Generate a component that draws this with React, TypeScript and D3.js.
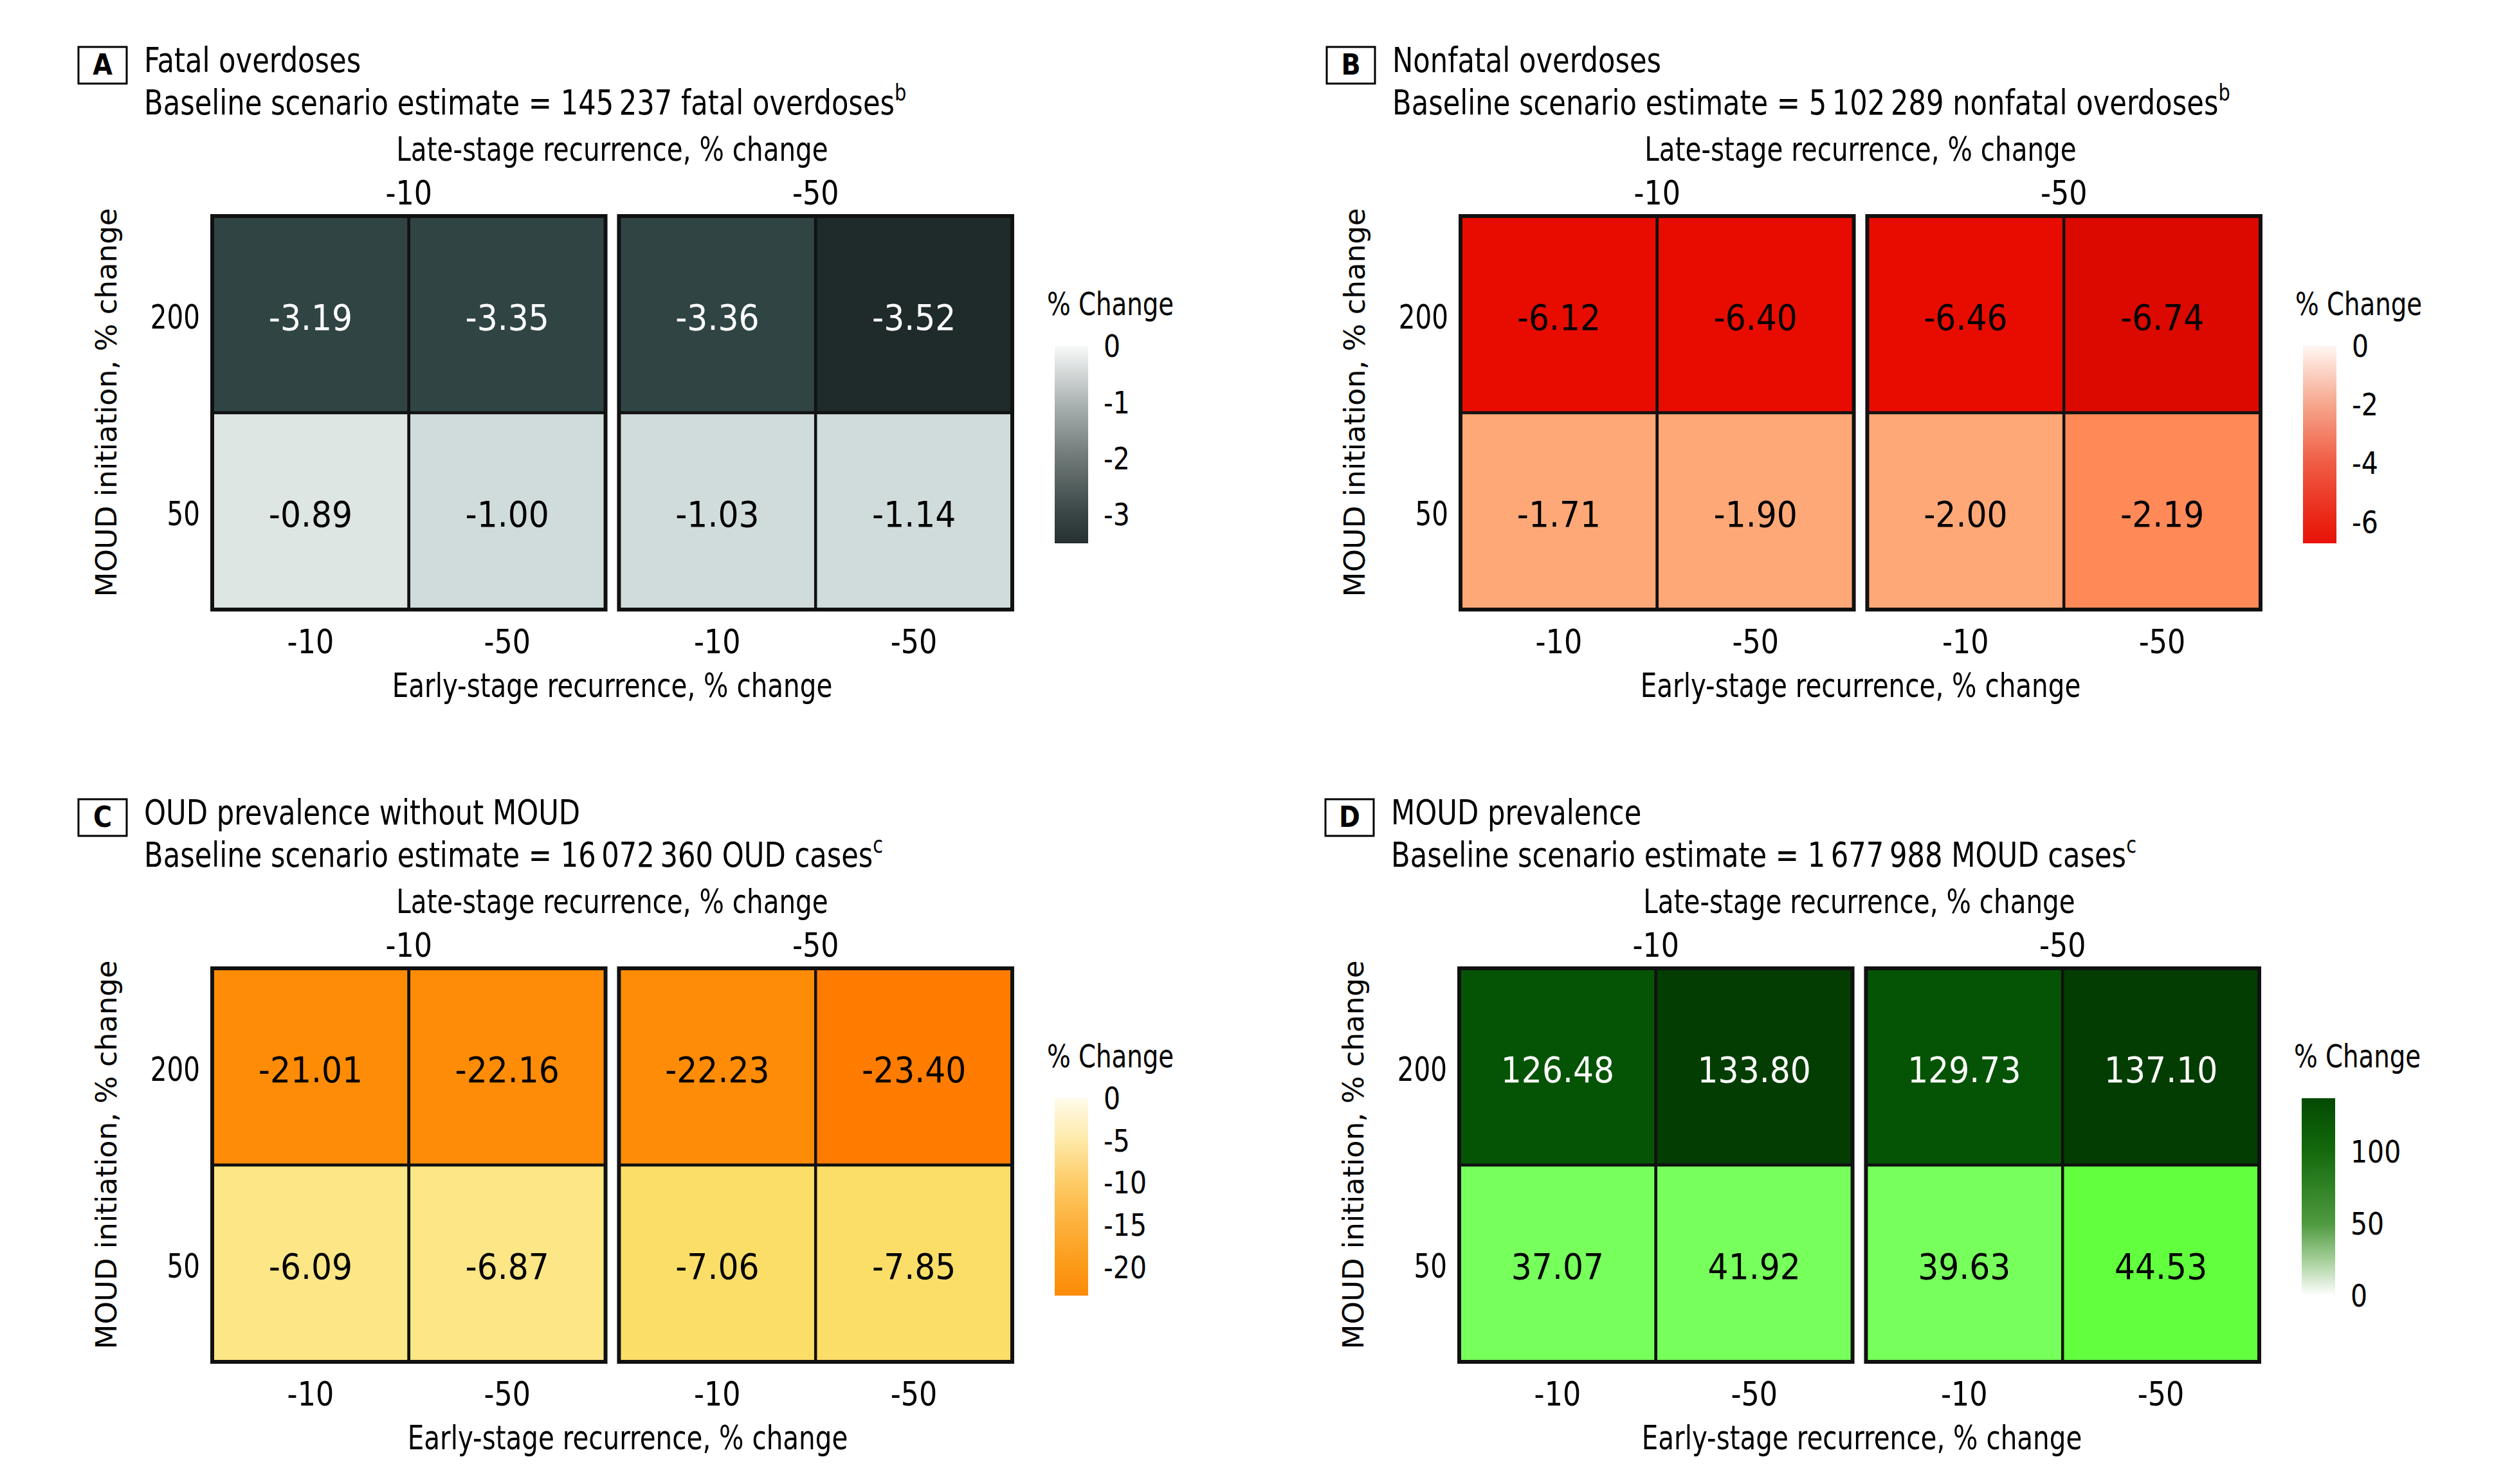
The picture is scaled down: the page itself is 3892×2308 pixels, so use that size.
import React from "react";
import * as d3 from "d3";

// ---------- data ----------
const lateStage = ["-10", "-50"]; // facet (top strip)
const earlyStage = ["-10", "-50"]; // x within facet
const moudInit = ["200", "50"]; // rows

// order: [late -10 / early -10, late -10 / early -50, late -50 / early -10, late -50 / early -50]
const fatal200 = [-3.19, -3.35, -3.36, -3.52];
const fatal50 = [-0.89, -1.0, -1.03, -1.14];
const nonfatal200 = [-6.12, -6.4, -6.46, -6.74];
const nonfatal50 = [-1.71, -1.9, -2.0, -2.19];
const oud200 = [-21.01, -22.16, -22.23, -23.4];
const oud50 = [-6.09, -6.87, -7.06, -7.85];
const moud200 = [126.48, 133.8, 129.73, 137.1];
const moud50 = [37.07, 41.92, 39.63, 44.53];

const ticksA = [0, -1, -2, -3];
const ticksB = [0, -2, -4, -6];
const ticksC = [0, -5, -10, -15, -20];
const ticksD = [0, 50, 100];

const titles = ["Fatal overdoses", "Nonfatal overdoses", "OUD prevalence without MOUD", "MOUD prevalence"];
const letters = ["A", "B", "C", "D"];
const baselineText = [
  "Baseline scenario estimate = 145\u2009237 fatal overdoses",
  "Baseline scenario estimate = 5\u2009102\u2009289 nonfatal overdoses",
  "Baseline scenario estimate = 16\u2009072\u2009360 OUD cases",
  "Baseline scenario estimate = 1\u2009677\u2009988 MOUD cases",
];
const footnotes = ["b", "b", "c", "c"];

// ---------- styles ----------
const FONT = "'DejaVu Sans Condensed', 'DejaVu Sans', sans-serif";
const YFONT = "'DejaVu Sans', Verdana, sans-serif";

type PanelCfg = {
  key: string;
  dx: number;
  dy: number;
  xTitleShift: number;
  rows: number[][];
  legendDomain: [number, number]; // [bottom, top]
  ticks: number[];
  thresholds: number[];
  cellColors: string[];
  gradStops: [number, string][];
};

const panels: PanelCfg[] = [
  {
    key: "A", dx: 0, dy: 0, xTitleShift: 0, rows: [fatal200, fatal50], legendDomain: [-3.52, 0], ticks: ticksA,
    thresholds: [-3.4, -2, -0.95], cellColors: ["#1f2a2b", "#304444", "#d0dcdb", "#dde6e3"],
    gradStops: [[0, "#f8f9f9"], [-1, "#adb5b4"], [-2, "#6e7877"], [-3, "#394545"], [-3.52, "#263030"]],
  },
  {
    key: "B", dx: 1941, dy: 0, xTitleShift: 0, rows: [nonfatal200, nonfatal50], legendDomain: [-6.74, 0], ticks: ticksB,
    thresholds: [-6.6, -4, -2.1], cellColors: ["#dc0900", "#e80c00", "#ff8957", "#fea878"],
    gradStops: [[0, "#fff6f2"], [-2, "#f6a68c"], [-4, "#ef5c44"], [-6, "#e92414"], [-6.74, "#e81208"]],
  },
  {
    key: "C", dx: 0, dy: 1170, xTitleShift: 24, rows: [oud200, oud50], legendDomain: [-23.4, 0], ticks: ticksC,
    thresholds: [-23, -15, -7], cellColors: ["#ff7c00", "#ff8c06", "#fbde68", "#fce686"],
    gradStops: [[0, "#fffbea"], [-5, "#fde9a8"], [-10, "#fdcb66"], [-15, "#fcb03a"], [-20, "#fc9a18"], [-23.4, "#fd8b08"]],
  },
  {
    key: "D", dx: 1939, dy: 1170, xTitleShift: 4, rows: [moud200, moud50], legendDomain: [0, 137.1], ticks: ticksD,
    thresholds: [44, 100, 130], cellColors: ["#77ff5c", "#62ff3f", "#055405", "#033d02"],
    gradStops: [[0, "#ffffff"], [25, "#a3cf98"], [50, "#4f9a40"], [100, "#146a0c"], [137.1, "#034a03"]],
  },
];

// panel-local layout (relative to panel A)
const HM_LEFT = 330;
const HM_RIGHT = 1574;
const HM_TOP = 336;
const HM_BOTTOM = 948;
const BAR_X = 1640;
const BAR_W = 52;
const BAR_TOP = 538;
const BAR_BOTTOM = 845;

type TProps = {
  x: number;
  y: number;
  sx?: number;
  size: number;
  anchor?: "start" | "middle" | "end";
  dy?: string;
  fill?: string;
  weight?: string;
  family?: string;
  children: React.ReactNode;
};

function T({ x, y, sx = 1, size, anchor = "start", dy, fill = "#000", weight = "normal", family = FONT, children }: TProps) {
  return (
    <text
      transform={`translate(${x},${y}) scale(${sx},1)`}
      textAnchor={anchor}
      dy={dy}
      fontFamily={family}
      fontSize={size}
      fontWeight={weight}
      fill={fill}
    >
      {children}
    </text>
  );
}

function Panel({ cfg, idx }: { cfg: PanelCfg; idx: number }) {
  const fx = d3.scaleBand<string>().domain(lateStage).range([HM_LEFT, HM_RIGHT]).paddingInner(0.033);
  const cx = d3.scaleBand<string>().domain(earlyStage).range([0, fx.bandwidth()]);
  const ry = d3.scaleBand<string>().domain(moudInit).range([HM_TOP, HM_BOTTOM]);
  const color = d3.scaleThreshold<number, string>().domain(cfg.thresholds).range(cfg.cellColors);
  const ly = d3.scaleLinear().domain(cfg.legendDomain).range([BAR_BOTTOM, BAR_TOP]);
  const gradId = `grad-${cfg.key}`;
  const centerX = (HM_LEFT + HM_RIGHT) / 2;
  const stops = cfg.gradStops
    .map(([v, c]) => ({ off: (BAR_BOTTOM - ly(v)) / (BAR_BOTTOM - BAR_TOP), c }))
    .sort((a, b) => a.off - b.off);

  return (
    <g transform={`translate(${cfg.dx},${cfg.dy})`}>
      <defs>
        <linearGradient id={gradId} x1="0" y1={BAR_BOTTOM} x2="0" y2={BAR_TOP} gradientUnits="userSpaceOnUse">
          {stops.map((s, i) => (
            <stop key={i} offset={s.off} stopColor={s.c} />
          ))}
        </linearGradient>
      </defs>
      {/* letter box + titles */}
      <rect x={122} y={73} width={75} height={57} fill="white" stroke="#000" strokeWidth={3} />
      <T x={159.5} y={116} anchor="middle" size={44} weight="bold">{letters[idx]}</T>
      <T x={224} y={112} size={54} sx={0.89}>{titles[idx]}</T>
      <T x={224} y={178} size={54} sx={0.89}>
        {baselineText[idx]}
        <tspan fontSize={36} dy={-22}>{footnotes[idx]}</tspan>
      </T>
      {/* top axis title and strip labels */}
      <T x={centerX} y={250} anchor="middle" size={52} sx={0.865}>Late-stage recurrence, % change</T>
      {lateStage.map((l) => (
        <T key={l} x={(fx(l) as number) + fx.bandwidth() / 2} y={318} anchor="middle" size={52} sx={0.95}>
          {l}
        </T>
      ))}
      {/* cells */}
      {lateStage.map((l, fi) => (
        <g key={l} transform={`translate(${fx(l)},0)`}>
          {moudInit.map((m, ri) =>
            earlyStage.map((e, ci) => {
              const v = cfg.rows[ri][fi * 2 + ci];
              const fill = color(v);
              const dark = d3.hsl(fill).l < 0.4;
              const x = cx(e) as number;
              const y = ry(m) as number;
              return (
                <g key={`${m}-${e}`}>
                  <rect x={x} y={y} width={cx.bandwidth()} height={ry.bandwidth()} fill={fill} stroke="#111" strokeWidth={4.5} />
                  <T
                    x={x + cx.bandwidth() / 2}
                    y={y + ry.bandwidth() / 2 + 4}
                    dy="0.36em"
                    anchor="middle"
                    size={56}
                    fill={dark ? "#ffffff" : "#000000"}
                  >
                    {v.toFixed(2)}
                  </T>
                </g>
              );
            })
          )}
          <rect x={0} y={HM_TOP} width={fx.bandwidth()} height={HM_BOTTOM - HM_TOP} fill="none" stroke="#111" strokeWidth={6} />
        </g>
      ))}
      {/* y axis */}
      {moudInit.map((m) => (
        <T key={m} x={311} y={(ry(m) as number) + ry.bandwidth() / 2 + 3} dy="0.36em" anchor="end" size={52} sx={0.865}>
          {m}
        </T>
      ))}
      <text
        transform={`translate(181,${(HM_TOP + HM_BOTTOM) / 2 - 16}) rotate(-90)`}
        textAnchor="middle"
        fontFamily={YFONT}
        fontSize={45}
      >
        MOUD initiation, % change
      </text>
      {/* bottom axis */}
      {lateStage.map((l) =>
        earlyStage.map((e) => (
          <T
            key={`${l}-${e}`}
            x={(fx(l) as number) + (cx(e) as number) + cx.bandwidth() / 2}
            y={1016}
            anchor="middle"
            size={52}
            sx={0.95}
          >
            {e}
          </T>
        ))
      )}
      <T x={centerX + cfg.xTitleShift} y={1084} anchor="middle" size={52} sx={0.865}>
        Early-stage recurrence, % change
      </T>
      {/* legend */}
      <T x={1628} y={490} size={50} sx={0.86}>% Change</T>
      <rect x={BAR_X} y={BAR_TOP} width={BAR_W} height={BAR_BOTTOM - BAR_TOP} fill={`url(#${gradId})`} />
      {cfg.ticks.map((t) => (
        <T key={t} x={BAR_X + BAR_W + 24} y={ly(t)} dy="0.36em" size={48} sx={0.95}>
          {String(t)}
        </T>
      ))}
    </g>
  );
}

export default function App() {
  return (
    <svg
      width={3892}
      height={2308}
      viewBox="0 0 3892 2308"
      style={{ position: "absolute", left: 0, top: 0, display: "block", background: "#fff" }}
    >
      <rect x={0} y={0} width={3892} height={2308} fill="#fff" />
      {panels.map((p, i) => (
        <Panel key={p.key} cfg={p} idx={i} />
      ))}
    </svg>
  );
}
